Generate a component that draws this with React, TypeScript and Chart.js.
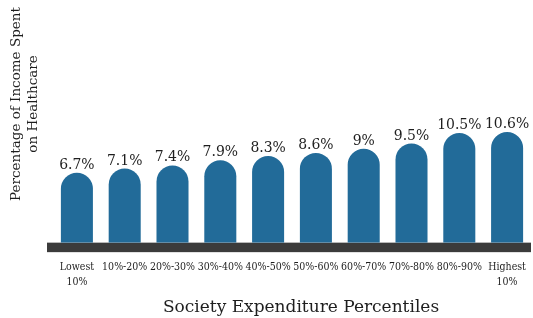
import React, { useEffect, useRef } from "react";
import { Chart, registerables } from "chart.js";

Chart.register(...registerables);

const categories: (string | string[])[] = [
  ["Lowest", "10%"],
  "10%-20%",
  "20%-30%",
  "30%-40%",
  "40%-50%",
  "50%-60%",
  "60%-70%",
  "70%-80%",
  "80%-90%",
  ["Highest", "10%"],
];
const values = [6.7, 7.1, 7.4, 7.9, 8.3, 8.6, 9, 9.5, 10.5, 10.6];
const valueLabels = ["6.7%", "7.1%", "7.4%", "7.9%", "8.3%", "8.6%", "9%", "9.5%", "10.5%", "10.6%"];
const yTitleLines = ["Percentage of Income Spent", "on Healthcare"];
const xTitle = "Society Expenditure Percentiles";

const FONT = "'DejaVu Serif', serif";
const FONT_COND = "'DejaVu Serif Condensed', 'DejaVu Serif', serif";
const BAR = "#226b99";
const BAND = "#3b3b3b";
const TEXT = "#1e1e1e";

const decorPlugin = {
  id: "decor",
  beforeDatasetsDraw(chart: any) {
    const { ctx, chartArea } = chart;
    ctx.save();
    ctx.fillStyle = BAND;
    ctx.fillRect(chartArea.left - 6, chartArea.bottom, chartArea.right - chartArea.left + 6, 9.5);
    ctx.restore();
  },
  afterDatasetsDraw(chart: any) {
    const { ctx, chartArea } = chart;
    const meta = chart.getDatasetMeta(0);
    ctx.save();
    ctx.fillStyle = TEXT;
    ctx.font = `15.5px ${FONT_COND}`;
    ctx.textAlign = "center";
    ctx.textBaseline = "alphabetic";
    meta.data.forEach((bar: any, i: number) => {
      ctx.fillText(valueLabels[i], bar.x, bar.y - 4);
    });
    // rotated y-axis title
    ctx.font = `13.5px ${FONT}`;
    ctx.textBaseline = "middle";
    const cy = chartArea.top + 70;
    yTitleLines.forEach((line, i) => {
      ctx.save();
      ctx.translate(chartArea.left - 37 + i * 17, cy);
      ctx.rotate(-Math.PI / 2);
      ctx.fillText(line, 0, 0);
      ctx.restore();
    });
    // x-axis title
    ctx.font = `17px ${FONT}`;
    ctx.textBaseline = "middle";
    ctx.fillText(xTitle, (chartArea.left + chartArea.right) / 2 + 9, chart.height - 10);
    ctx.restore();
  },
};

export default function App() {
  const ref = useRef<HTMLCanvasElement | null>(null);
  useEffect(() => {
    if (!ref.current) return;
    const chart = new Chart(ref.current, {
      type: "bar",
      data: {
        labels: categories,
        datasets: [
          {
            data: values,
            backgroundColor: BAR,
            borderRadius: 100,
            borderSkipped: "bottom",
            categoryPercentage: 1,
            barPercentage: 0.67,
          },
        ],
      },
      options: {
        animation: false,
        responsive: false,
        layout: { padding: { left: 53, right: 2, top: 34, bottom: 29 } },
        plugins: { legend: { display: false }, tooltip: { enabled: false } },
        scales: {
          x: {
            grid: { display: false, drawTicks: true, tickLength: 18 },
            border: { display: false },
            ticks: {
              color: TEXT,
              font: { family: FONT_COND, size: 10.5, lineHeight: 1.35 },
              padding: 0,
              maxRotation: 0,
              autoSkip: false,
            },
            title: { display: false },
          },
          y: {
            display: false,
            min: 0,
            max: 20,
          },
        },
      },
      plugins: [decorPlugin],
    });
    return () => chart.destroy();
  }, []);
  return (
    <div style={{ position: "fixed", left: 0, top: 0, width: 533, height: 318, background: "#fff" }}>
      <canvas ref={ref} width={533} height={318} style={{ display: "block" }} />
    </div>
  );
}
